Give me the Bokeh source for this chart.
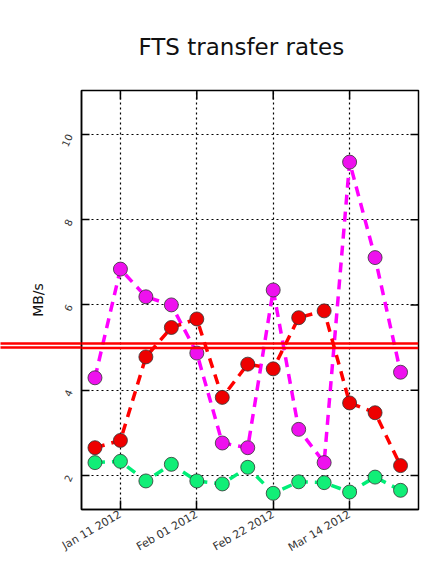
import math
from datetime import datetime
from bokeh.plotting import figure
from bokeh.models import (Range1d, FixedTicker, DatetimeTickFormatter, Span, ColumnDataSource)
from bokeh.embed import file_html
from bokeh.resources import INLINE

# ---- data ----
weeks = ["2012-01-04", "2012-01-11", "2012-01-18", "2012-01-25", "2012-02-01",
         "2012-02-08", "2012-02-15", "2012-02-22", "2012-02-29", "2012-03-07",
         "2012-03-14", "2012-03-21", "2012-03-28"]
rate_magenta = [4.29, 6.84, 6.19, 6.00, 4.87, 2.76, 2.65, 6.35, 3.08, 2.30, 9.35, 7.11, 4.42]
rate_red = [2.65, 2.82, 4.78, 5.47, 5.67, 3.83, 4.61, 4.50, 5.70, 5.86, 3.70, 3.47, 2.23]
rate_green = [2.30, 2.33, 1.87, 2.26, 1.87, 1.80, 2.19, 1.58, 1.85, 1.83, 1.61, 1.96, 1.65]
x_tick_dates = ["2012-01-11", "2012-02-01", "2012-02-22", "2012-03-14"]
y_ticks = [2, 4, 6, 8, 10]
threshold_lines = [5.093, 4.990]

FONT = "DejaVu Sans"

def to_dt(s):
    return datetime.strptime(s, "%Y-%m-%d")

def to_ms(s):
    return (to_dt(s) - datetime(1970, 1, 1)).total_seconds() * 1000.0

xs = [to_dt(d) for d in weeks]
x_start, x_end = datetime(2011, 12, 31, 7, 12), datetime(2012, 4, 1, 22, 30)
y_start, y_end = 1.2, 11.03

p = figure(width=422, height=562, x_axis_type="datetime",
           x_range=Range1d(x_start, x_end), y_range=Range1d(y_start, y_end),
           output_backend="svg", toolbar_location=None,
           min_border_left=81, min_border_right=4, min_border_top=90, min_border_bottom=52,
           title="FTS transfer rates")

p.title.text_font = FONT
p.title.text_font_size = "23px"
p.title.text_font_style = "normal"
p.title.align = "left"
p.title.offset = 57
p.title.text_color = "#111111"
p.title.standoff = 61

p.outline_line_color = "black"
p.outline_line_width = 1.5
p.background_fill_color = "white"
p.border_fill_color = "white"

# grid
for g in (p.xgrid, p.ygrid):
    g.grid_line_color = "black"
    g.grid_line_dash = "2 3"
    g.grid_line_width = 1.2
p.xgrid.ticker = FixedTicker(ticks=[to_ms(d) for d in x_tick_dates])
p.ygrid.ticker = FixedTicker(ticks=y_ticks)

# x axis
xa = p.xaxis[0]
xa.ticker = FixedTicker(ticks=[to_ms(d) for d in x_tick_dates])
xa.formatter = DatetimeTickFormatter(days="%b %d %Y", months="%b %d %Y", hours="%b %d %Y")
xa.major_label_orientation = math.pi / 6
xa.major_label_text_font = FONT
xa.major_label_text_font_size = "11px"
xa.major_label_text_color = "#333333"
xa.major_tick_in = 9
xa.major_tick_out = 0
xa.major_tick_line_width = 1.5
xa.minor_tick_line_color = None
xa.axis_line_color = "black"
xa.axis_line_width = 1.5
xa.major_label_standoff = 4

# y axis (minor ticks drawn outward continue the threshold double line)
ya = p.yaxis[0]
ya.ticker = FixedTicker(ticks=y_ticks, minor_ticks=threshold_lines)
ya.major_label_orientation = 1.15
ya.major_label_text_font = FONT
ya.major_label_text_font_size = "10px"
ya.major_label_text_color = "#333333"
ya.major_tick_in = 8
ya.major_tick_out = 0
ya.major_tick_line_width = 1.5
ya.minor_tick_in = -81
ya.minor_tick_out = 0
ya.minor_tick_line_color = "red"
ya.minor_tick_line_width = 2.4
ya.axis_line_color = "black"
ya.axis_line_width = 1.5
ya.axis_label = "MB/s"
ya.axis_label_text_font = FONT
ya.axis_label_text_font_size = "14px"
ya.axis_label_text_font_style = "normal"
ya.axis_label_text_color = "#111111"
ya.major_label_standoff = 12
ya.axis_label_standoff = 8

# threshold double line inside the frame
for v in threshold_lines:
    p.add_layout(Span(location=v, dimension="width", line_color="red", line_width=2.4))

# inward ticks on the top and right edges
p.scatter(x=[to_dt(d) for d in x_tick_dates], y=[y_end] * len(x_tick_dates),
          marker="dash", angle=math.pi / 2, size=18, line_color="black", line_width=1.5)
p.scatter(x=[x_end] * len(y_ticks), y=y_ticks, marker="dash", size=16,
          line_color="black", line_width=1.5)

series = [
    (rate_magenta, "#ff00ff", "#ee11ee"),
    (rate_red, "#ff0000", "#ee0000"),
    (rate_green, "#00ee77", "#11ee77"),
]
for vals, lc, fc in series:
    src = ColumnDataSource(dict(x=xs, y=vals))
    p.line("x", "y", source=src, line_color=lc, line_width=3.5, line_dash="10 7")
for vals, lc, fc in series:
    src = ColumnDataSource(dict(x=xs, y=vals))
    p.scatter("x", "y", source=src, size=14, fill_color=fc, line_color="#333333",
              line_width=1, line_alpha=0.8)

open("out.html", "w").write(file_html(p, INLINE))
